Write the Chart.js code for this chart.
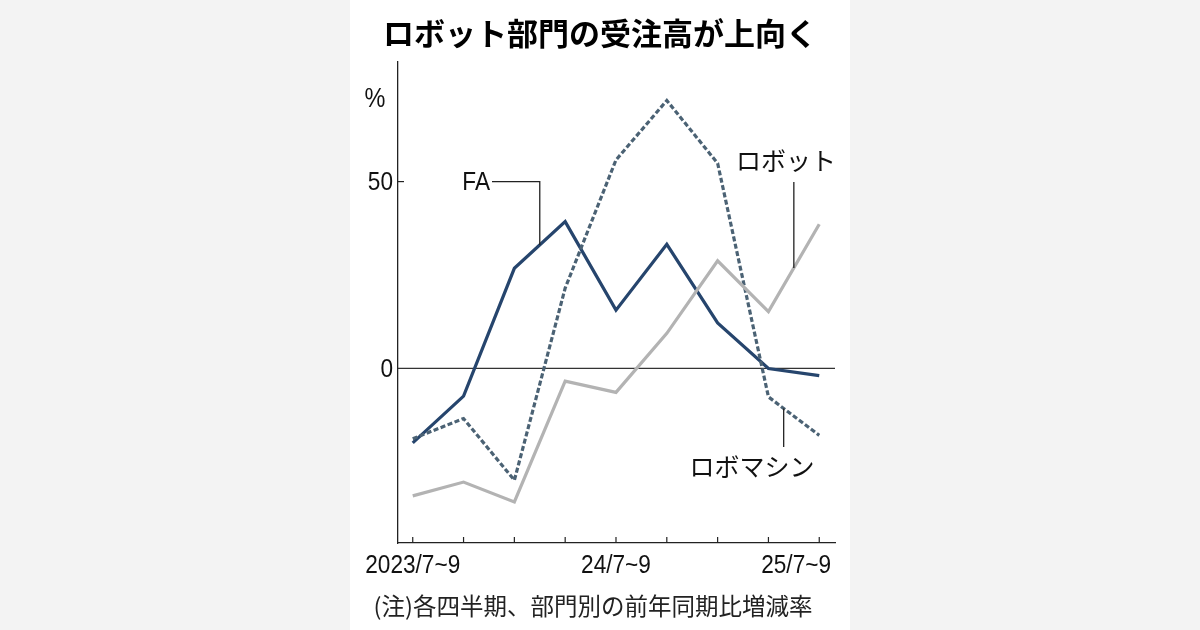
<!DOCTYPE html>
<html>
<head>
<meta charset="utf-8">
<script src="https://cdn.jsdelivr.net/npm/chart.js@4.4.1/dist/chart.umd.min.js"></script>
<style>
  html, body { margin: 0; padding: 0; }
  body { width: 1200px; height: 630px; background: #f3f3f3; position: relative; overflow: hidden; }
  .panel { position: absolute; left: 350px; top: 0; width: 500px; height: 630px; background: #ffffff; }
  #wrap { position: absolute; left: 0; top: 0; width: 1200px; height: 630px; }
</style>
</head>
<body>
<div class="panel"></div>
<div id="wrap"><canvas id="chart" width="1200" height="630"></canvas></div>
<script>
// quarters, 2023/7-9 .. 2025/7-9
const quarters = ['2023/7~9', '', '', '', '24/7~9', '', '', '', '25/7~9'];
// year-on-year change, %
const faValues = [-19.9, -7.4, 26.8, 39.3, 15.6, 33.2, 12.2, 0, -1.9];
const robotValues = [-34.1, -30.4, -35.7, -3.4, -6.4, 9.4, 28.8, 15.2, 38.6];
const roboMachineValues = [-18.8, -13.4, -29.9, 21.5, 55.8, 71.7, 54.9, -7.6, -17.9];
const yTicks = [0, 50];

const numFont = '"Liberation Sans", Arial, sans-serif';
const jpFont = '"Noto Sans CJK JP", "Noto Sans", sans-serif';

function toPoints(values) {
  return values.map((v, i) => ({ x: i, y: v }));
}

// narrow text: squeeze horizontally around the anchor point
function narrowText(ctx, text, x, y, align) {
  ctx.save();
  ctx.translate(x, y);
  ctx.scale(0.87, 1);
  ctx.textAlign = align;
  ctx.fillText(text, 0, 0);
  ctx.restore();
}

// draws labels, ticks, leader lines with positions from the chart's scales
const annotate = {
  id: 'annotate',
  beforeDatasetsDraw(chart) {
    const ctx = chart.ctx;
    const y = chart.scales.y;
    const area = chart.chartArea;
    ctx.save();
    // zero line
    ctx.strokeStyle = '#333';
    ctx.lineWidth = 1.2;
    ctx.beginPath();
    ctx.moveTo(area.left, y.getPixelForValue(0));
    ctx.lineTo(area.right, y.getPixelForValue(0));
    ctx.stroke();
    ctx.restore();
  },
  afterDraw(chart) {
    const ctx = chart.ctx;
    const x = chart.scales.x;
    const y = chart.scales.y;
    const area = chart.chartArea;
    ctx.save();
    ctx.strokeStyle = '#222';
    ctx.lineWidth = 1.2;

    // x ticks pointing inside
    quarters.forEach((q, i) => {
      const px = x.getPixelForValue(i);
      ctx.beginPath();
      ctx.moveTo(px, area.bottom);
      ctx.lineTo(px, area.bottom - 6);
      ctx.stroke();
    });
    // y tick at 50
    ctx.beginPath();
    ctx.moveTo(area.left, y.getPixelForValue(50));
    ctx.lineTo(area.left + 6, y.getPixelForValue(50));
    ctx.stroke();

    // y labels
    ctx.fillStyle = '#111';
    ctx.font = '26px ' + numFont;
    ctx.textBaseline = 'middle';
    yTicks.forEach(t => narrowText(ctx, String(t), area.left - 5, y.getPixelForValue(t) + 1, 'right'));
    ctx.font = '27px ' + numFont;
    narrowText(ctx, '%', 375, 100, 'center');

    // x labels
    ctx.font = '26px ' + numFont;
    quarters.forEach((q, i) => {
      if (!q) return;
      const px = x.getPixelForValue(i);
      if (i === quarters.length - 1) {
        narrowText(ctx, q, area.right - 4, 566, 'right');
      } else {
        narrowText(ctx, q, px, 566, 'center');
      }
    });

    // series labels with leader lines
    ctx.lineWidth = 1.3;
    ctx.strokeStyle = '#222';
    // FA
    const faX = x.getPixelForValue(2.5);
    const faY = y.getPixelForValue((faValues[2] + faValues[3]) / 2);
    ctx.beginPath();
    ctx.moveTo(492, y.getPixelForValue(50));
    ctx.lineTo(faX, y.getPixelForValue(50));
    ctx.lineTo(faX, faY);
    ctx.stroke();
    ctx.font = '26px ' + numFont;
    narrowText(ctx, 'FA', 490, y.getPixelForValue(50) + 1, 'right');

    // ロボット
    const rX = x.getPixelForValue(7.5);
    const rY = y.getPixelForValue((robotValues[7] + robotValues[8]) / 2);
    ctx.beginPath();
    ctx.moveTo(rX, 182);
    ctx.lineTo(rX, rY);
    ctx.stroke();
    ctx.font = '25px ' + jpFont;
    ctx.textAlign = 'center';
    ctx.fillText('ロボット', 786, 160);

    // ロボマシン
    const mX = x.getPixelForValue(7.3);
    const mY = y.getPixelForValue(roboMachineValues[7] + 0.3 * (roboMachineValues[8] - roboMachineValues[7]));
    ctx.beginPath();
    ctx.moveTo(mX, mY);
    ctx.lineTo(mX, 447);
    ctx.stroke();
    ctx.fillText('ロボマシン', 752, 466);

    // title and note
    ctx.fillStyle = '#000';
    ctx.font = 'bold 31px ' + jpFont;
    ctx.fillText('ロボット部門の受注高が上向く', 600, 33);
    ctx.fillStyle = '#222';
    ctx.font = '23.5px ' + jpFont;
    ctx.fillText('(注)各四半期、部門別の前年同期比増減率', 593, 606);
    ctx.restore();
  }
};

new Chart(document.getElementById('chart').getContext('2d'), {
  type: 'scatter',
  data: {
    datasets: [
      {
        label: 'ロボット',
        data: toPoints(robotValues),
        borderColor: '#b3b3b3',
        borderWidth: 3.2,
        pointRadius: 0,
        showLine: true,
      },
      {
        label: 'ロボマシン',
        data: toPoints(roboMachineValues),
        borderColor: '#4b6274',
        borderWidth: 3.2,
        borderDash: [5, 2.5],
        pointRadius: 0,
        showLine: true,
      },
      {
        label: 'FA',
        data: toPoints(faValues),
        borderColor: '#26456d',
        borderWidth: 3.2,
        pointRadius: 0,
        showLine: true,
      },
    ],
  },
  options: {
    responsive: false,
    animation: false,
    layout: { padding: { left: 398, right: 365, top: 62, bottom: 87 } },
    plugins: { legend: { display: false }, tooltip: { enabled: false } },
    scales: {
      x: {
        type: 'linear',
        min: -0.29,
        max: 8.31,
        afterBuildTicks: (scale) => { scale.ticks = quarters.map((q, i) => ({ value: i })); },
        ticks: { display: false },
        grid: { display: false, drawTicks: false },
        border: { display: true, color: '#222', width: 1.3 },
      },
      y: {
        min: -46.7,
        max: 82,
        afterBuildTicks: (scale) => { scale.ticks = yTicks.map(v => ({ value: v })); },
        ticks: { display: false },
        grid: { display: false, drawTicks: false },
        border: { display: true, color: '#222', width: 1.3 },
      },
    },
  },
  plugins: [annotate],
});
</script>
</body>
</html>
